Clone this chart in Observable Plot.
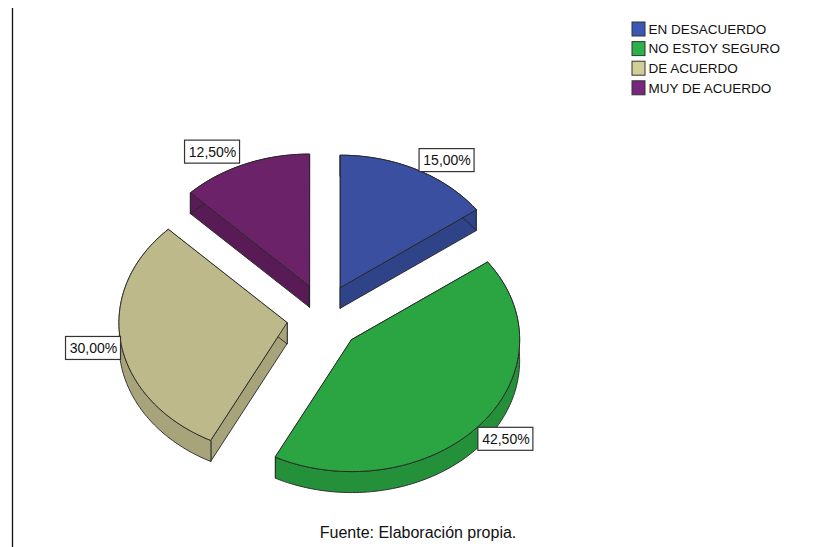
<!DOCTYPE html>
<html>
<head>
<meta charset="utf-8">
<script src="https://cdn.jsdelivr.net/npm/d3@7"></script>
<script src="https://cdn.jsdelivr.net/npm/@observablehq/plot@0.6"></script>
<style>
  html, body { margin: 0; padding: 0; background: #fff; }
</style>
</head>
<body>
<div id="chart"></div>
<script>
// ---- data ----
const categories = ["EN DESACUERDO", "NO ESTOY SEGURO", "DE ACUERDO", "MUY DE ACUERDO"];
const percentages = [15.0, 42.5, 30.0, 12.5];
const labelTexts = ["15,00%", "42,50%", "30,00%", "12,50%"];
const caption = "Fuente: Elaboración propia.";

// ---- styles ----
const topColors = ["#3a4f9f", "#2ba542", "#bdb98a", "#6c2268"];
const sideColors = ["#2f4388", "#24903a", "#a7a37a", "#581b56"];
const legendColors = ["#3c56b4", "#2cb04a", "#d3ce97", "#78287c"];

// ---- layout ----
const W = 835, H = 547;
const cx0 = 323, cy0 = 317;      // pie centre (before explosion)
const rx = 168, ry = 132;        // tilted ellipse radii
const depth = 21;                // slice thickness
const ex = 37, ey = 34;          // explosion distance
const labelNudge = [-9, 14, 5, -12];
const labelShiftX = [3, -1, 0, -5];
const boxW = 55, boxH = 23;
const legendX = 632, legendY = 29, legendStep = 19.6, swatch = 13;
const drawOrder = [3, 0, 2, 1];  // back to front

// angles: clockwise from 12 o'clock
const total = d3.sum(percentages);
let acc = 0;
const slices = percentages.map((p, i) => {
  const a0 = acc / total * 2 * Math.PI;
  acc += p;
  const a1 = acc / total * 2 * Math.PI;
  const mid = (a0 + a1) / 2;
  const sx = cx0 + ex * Math.sin(mid);
  const sy = cy0 - ey * Math.cos(mid);
  return {i, a0, a1, mid, sx, sy};
});

const pt = (s, a, dz = 0) => ({x: s.sx + rx * Math.sin(a), y: s.sy - ry * Math.cos(a) + dz});
const arc = (s, from, to, dz) => {
  const n = Math.max(8, Math.ceil(Math.abs(to - from) / 0.02));
  return d3.range(n + 1).map(k => pt(s, from + (to - from) * k / n, dz));
};

const marks = [];
const poly = (pts, fill) => marks.push(Plot.line(pts, {
  x: "x", y: "y", curve: "linear-closed", fill, stroke: "#262626", strokeWidth: 0.9, strokeLinejoin: "round"
}));

for (const idx of drawOrder) {
  const s = slices[idx];
  const c = {x: s.sx, y: s.sy};
  const cd = {x: s.sx, y: s.sy + depth};
  // radial faces
  for (const a of [s.a0, s.a1]) {
    const p = pt(s, a), pd = pt(s, a, depth);
    poly([c, p, pd, cd], sideColors[idx]);
  }
  // outer band
  poly([...arc(s, s.a0, s.a1, 0), ...arc(s, s.a1, s.a0, depth)], sideColors[idx]);
  // top face
  poly([c, ...arc(s, s.a0, s.a1, 0)], topColors[idx]);
}

// value labels
const labels = slices.map(s => {
  const p = pt(s, s.mid);
  const right = Math.sin(s.mid) >= 0;
  const x1 = (right ? p.x : p.x - boxW) + labelShiftX[s.i];
  const yc = p.y + labelNudge[s.i];
  return {x1, x2: x1 + boxW, y1: yc - boxH / 2, y2: yc + boxH / 2, xc: x1 + boxW / 2, yc, text: labelTexts[s.i]};
});
marks.push(Plot.rect(labels, {x1: "x1", x2: "x2", y1: "y1", y2: "y2", fill: "white", stroke: "#333", strokeWidth: 1.2}));
marks.push(Plot.text(labels, {x: "xc", y: "yc", text: "text", fontSize: 14, fill: "#111"}));

// legend
const legend = categories.map((c, i) => ({c, color: legendColors[i], y: legendY + i * legendStep}));
marks.push(Plot.rect(legend, {
  x1: () => legendX, x2: () => legendX + swatch,
  y1: d => d.y - swatch / 2 - 0.5, y2: d => d.y + swatch / 2 + 0.5,
  fill: "color", stroke: "#333", strokeWidth: 1
}));
marks.push(Plot.text(legend, {x: () => legendX + swatch + 3, y: "y", text: "c", textAnchor: "start", fontSize: 13.5, fill: "#111"}));

// caption
marks.push(Plot.text([caption], {frameAnchor: "bottom", dy: -10, fontSize: 16, fill: "#111"}));

// left border line
marks.push(Plot.ruleX([12], {y1: 8, y2: H, stroke: "#111", strokeWidth: 1.3}));

const chart = Plot.plot({
  width: W, height: H, margin: 0,
  x: {domain: [0, W], range: [0, W], axis: null},
  y: {domain: [0, H], range: [0, H], axis: null},
  color: {type: "identity"},
  style: {fontFamily: "'Liberation Sans', Arial, sans-serif", background: "white", overflow: "visible"},
  marks
});
document.getElementById("chart").appendChild(chart);
</script>
</body>
</html>
